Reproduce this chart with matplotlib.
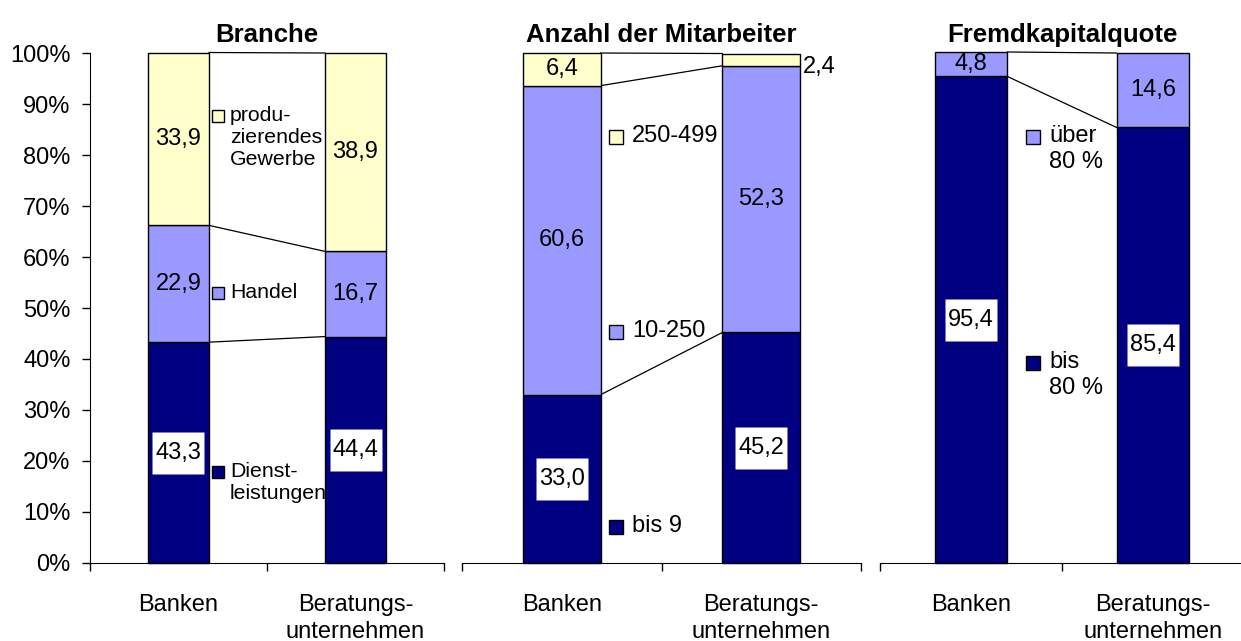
import matplotlib
matplotlib.use('Agg')
import matplotlib.pyplot as plt
import numpy as np

plt.rcParams['font.family'] = ['Liberation Sans', 'DejaVu Sans']

categories = ['Banken', 'Beratungs-\nunternehmen']

# Branche
branche_dienst = [43.3, 44.4]
branche_handel = [22.9, 16.7]
branche_prod = [33.9, 38.9]

# Anzahl der Mitarbeiter
ma_bis9 = [33.0, 45.2]
ma_10_250 = [60.6, 52.3]
ma_250_499 = [6.4, 2.4]

# Fremdkapitalquote
fk_bis80 = [95.4, 85.4]
fk_ueber80 = [4.8, 14.6]

NAVY = '#000080'
LILA = '#9999FF'
GELB = '#FFFFCC'
FS = 17

# weisses Kaestchen hinter den Werten auf dunklem Grund (53 x 43 px)
BOX = [(-26.5, -21.5), (26.5, -21.5), (26.5, 21.5), (-26.5, 21.5), (-26.5, -21.5)]

fig = plt.figure(figsize=(12.41, 6.41), dpi=100)


def panel(rect, title, series, colors, legend, width, show_y=False, outside=None):
    ax = fig.add_axes(rect)
    x = np.arange(len(categories))
    bottom = np.zeros(len(categories))
    bounds = [bottom.copy()]
    for k, (vals, col) in enumerate(zip(series, colors)):
        vals = np.array(vals)
        ax.bar(x, vals, width, bottom=bottom, color=col, edgecolor='black',
               linewidth=1, clip_on=False, zorder=2)
        for i, v in enumerate(vals):
            txt = f'{v:.1f}'.replace('.', ',')
            yc = bottom[i] + v / 2
            if outside == (k, i):
                # zu schmal -> Beschriftung rechts neben der Saeule
                ax.text(x[i] + width / 2 + 0.015, yc - 1.5, txt,
                        ha='left', va='center', fontsize=FS, zorder=4)
                continue
            if col == NAVY:
                ax.plot([x[i]], [yc], marker=BOX, markersize=38, markerfacecolor='white',
                        markeredgecolor='none', linestyle='none', zorder=3)
            ax.text(x[i], yc, txt, ha='center', va='center', fontsize=FS, zorder=4)
        bottom = bottom + vals
        bounds.append(bottom.copy())

    # Verbindungslinien zwischen den Saeulen
    for b in bounds[1:]:
        ax.plot([x[0] + width / 2, x[1] - width / 2], [b[0], b[1]], color='black',
                linewidth=0.9, zorder=1, clip_on=False)

    # Legende direkt zwischen den Saeulen
    mx, tx, ms, lfs = legend['pos']
    for (label, col, yy) in legend['items']:
        ax.plot([mx], [yy], marker='s', markersize=ms, markerfacecolor=col,
                markeredgecolor='black', markeredgewidth=1, linestyle='none', clip_on=False, zorder=5)
        ax.annotate(label, xy=(tx, yy), xytext=(0, lfs * 0.5), textcoords='offset points',
                    ha='left', va='top', fontsize=lfs, linespacing=1.22, zorder=5)

    ax.set_xlim(-0.5, 1.5)
    ax.set_ylim(0, 100)
    ax.set_title(title, fontsize=18.5, fontweight='bold', pad=8)
    ax.set_xticks(x)
    ax.set_xticklabels(categories, fontsize=FS, linespacing=1.3)
    ax.set_xticks([-0.5, 0.5, 1.5], minor=True)
    ax.tick_params(axis='x', which='major', length=0, pad=22)
    ax.tick_params(axis='x', which='minor', length=6, width=1, direction='out')
    ax.spines['top'].set_visible(False)
    ax.spines['right'].set_visible(False)
    if show_y:
        ax.set_yticks(np.arange(0, 101, 10))
        ax.set_yticklabels([f'{t}%' for t in range(0, 101, 10)], fontsize=FS)
        ax.tick_params(axis='y', length=6, width=1, pad=8)
    else:
        ax.spines['left'].set_visible(False)
        ax.set_yticks([])
    return ax


panel([0.0725, 0.1217, 0.2853, 0.7956], 'Branche',
      [branche_dienst, branche_handel, branche_prod], [NAVY, LILA, GELB],
      {'pos': (0.223, 0.291, 8.5, 15.3),
       'items': [('produ-\nzierendes\nGewerbe', GELB, 87.6), ('Handel', LILA, 52.9),
                 ('Dienst-\nleistungen', NAVY, 17.8)]},
      width=0.345, show_y=True)

panel([0.3723, 0.1217, 0.3215, 0.7956], 'Anzahl der Mitarbeiter',
      [ma_bis9, ma_10_250, ma_250_499], [NAVY, LILA, GELB],
      {'pos': (0.272, 0.352, 10.5, FS),
       'items': [('250-499', GELB, 83.5), ('10-250', LILA, 45.3), ('bis 9', NAVY, 7.1)]},
      width=0.39, outside=(2, 1))

panel([0.7091, 0.1217, 0.2933, 0.7956], 'Fremdkapitalquote',
      [fk_bis80, fk_ueber80], [NAVY, LILA],
      {'pos': (0.341, 0.429, 10.5, FS),
       'items': [('über\n80 %', LILA, 83.5), ('bis\n80 %', NAVY, 39.2)]},
      width=0.40)

fig.savefig('out.png', dpi=100)
